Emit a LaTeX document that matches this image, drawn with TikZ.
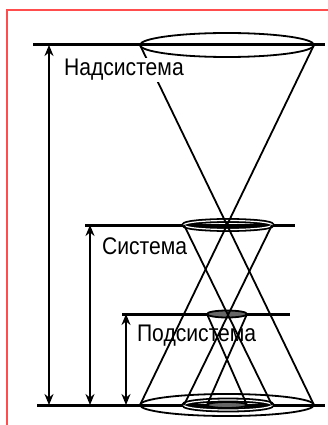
\documentclass[tikz,border=0pt]{standalone}
\usepackage{fontspec}
\setmainfont{Liberation Sans}
\usepackage{tikz}
\usetikzlibrary{arrows,arrows.meta,positioning}
\usepackage{xcolor}

\begin{document}
\begin{tikzpicture}[x=1pt, y=-1pt,
	level/.style={line width=3pt},
	cone/.style={line width=1.8pt},
	ring/.style={line width=1.8pt},
	arr/.style={{Stealth[length=11pt,width=9pt]}-{Stealth[length=11pt,width=9pt]}, line width=2.2pt},
	lbl/.style={anchor=west, inner sep=1pt, font=\fontsize{24}{24}\selectfont, xscale=0.88}
]
	\useasboundingbox (0,0) rectangle (327,425);
	% frame
	\draw[red!70, line width=1.2pt] (7,430) -- (7,10) -- (330,10);

	% levels
	\coordinate (topL) at (33,45);   \coordinate (topR) at (325,45);
	\coordinate (sysL) at (85,225);  \coordinate (sysR) at (295,225);
	\coordinate (subL) at (122,314); \coordinate (subR) at (290,314);
	\coordinate (botL) at (37,405);  \coordinate (botR) at (325,405);
	\draw[level] (topL) -- (topR);
	\draw[level] (sysL) -- (sysR);
	\draw[level] (subL) -- (subR);
	\draw[level] (botL) -- (botR);

	% ellipses
	\draw[ring] (227,45) ellipse (87 and 12);
	\draw[ring, double, double distance=1.2pt] (228,225) ellipse (44 and 4.5);
	\draw[ring, fill=black!60] (227,314) ellipse (20 and 3.5);
	\draw[ring] (227,405) ellipse (87 and 11);
	\draw[ring, double, double distance=1.2pt] (228,405) ellipse (44 and 5);
	\draw[ring, fill=black!60] (227,405) ellipse (20 and 3);

	% cones
	\coordinate (a1) at (140,45);  \coordinate (a2) at (314,45);
	\coordinate (a3) at (140,405); \coordinate (a4) at (314,405);
	\coordinate (b1) at (184,225); \coordinate (b2) at (272,225);
	\coordinate (b3) at (184,405); \coordinate (b4) at (272,405);
	\coordinate (c1) at (207,314); \coordinate (c2) at (247,314);
	\coordinate (c3) at (207,405); \coordinate (c4) at (247,405);
	\draw[cone] (a1) -- (a4);
	\draw[cone] (a2) -- (a3);
	\draw[cone] (b1) -- (b4);
	\draw[cone] (b2) -- (b3);
	\draw[cone] (c1) -- (c4);
	\draw[cone] (c2) -- (c3);

	% labels
	\node[lbl, fill=white] (nad) at (63,70) {Надсистема};
	\node[lbl] (sys) at (101,246) {Система};
	\node[lbl] (sub) at (136,336) {Подсистема};

	% arrows
	\coordinate (n1) at (49,45);  \coordinate (n2) at (49,405);
	\coordinate (s1) at (90,225); \coordinate (s2) at (90,405);
	\coordinate (p1) at (126,314); \coordinate (p2) at (126,405);
	\draw[arr] (n1) -- (n2);
	\draw[arr] (s1) -- (s2);
	\draw[arr] (p1) -- (p2);
\end{tikzpicture}
\end{document}
